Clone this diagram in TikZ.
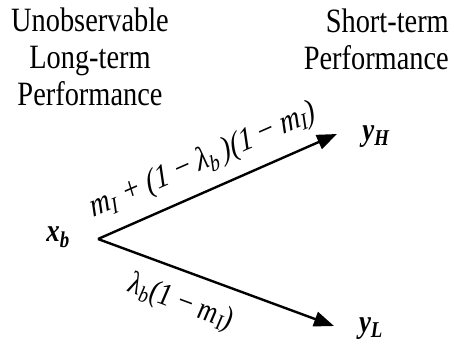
\documentclass[tikz,border=0pt]{standalone}
\usepackage{fontspec}
\setmainfont{Liberation Serif}
\usetikzlibrary{arrows.meta}
\tikzset{
  txt/.style={font=\fontsize{28.5}{31}\selectfont, inner sep=0pt, cm={1,0,0,1.2,(0,0)}},
  var/.style={font=\fontsize{27}{30}\selectfont\bfseries\itshape, inner sep=0pt, cm={1,0,0,1.2,(0,0)}},
  lblup/.style={font=\fontsize{28}{30}\selectfont\itshape, inner sep=0pt, cm={0.939,0.413,-0.344,1.127,(0,0)}},
  lbldn/.style={font=\fontsize{27}{30}\selectfont\itshape, inner sep=0pt, cm={0.956,-0.353,0.294,1.147,(0,0)}},
  arr/.style={line width=2.4bp, -{Triangle[length=20bp,width=15bp]}}
}
\begin{document}
\begin{tikzpicture}[x=1bp,y=1bp]
\useasboundingbox (0,0) rectangle (454,349);
\node[txt, align=center] (lt) at (90,292) {Unobservable\\Long-term\\Performance};
\node[txt, align=right, anchor=east] (st) at (449,310) {Short-term\\Performance};
\node[var] (xb) at (58,112) {x\textsubscript{b}};
\node[var] (yh) at (376,212) {y\textsubscript{H}};
\node[var] (yl) at (371,20) {y\textsubscript{L}};
\coordinate (o) at (98,110);
\coordinate (th) at (337,215);
\coordinate (tl) at (334,23);
\draw[arr] (o) -- (th);
\draw[arr] (o) -- (tl);
\node[lblup] (lu) at (203,188) {m\textsubscript{I} + (1 \textup{−} λ\textsubscript{b}\,)(1 \textup{−} m\textsubscript{I})};
\node[lbldn] (ld) at (181,46) {λ\textsubscript{b}(1 \textup{−} m\textsubscript{I})};
\end{tikzpicture}
\end{document}
